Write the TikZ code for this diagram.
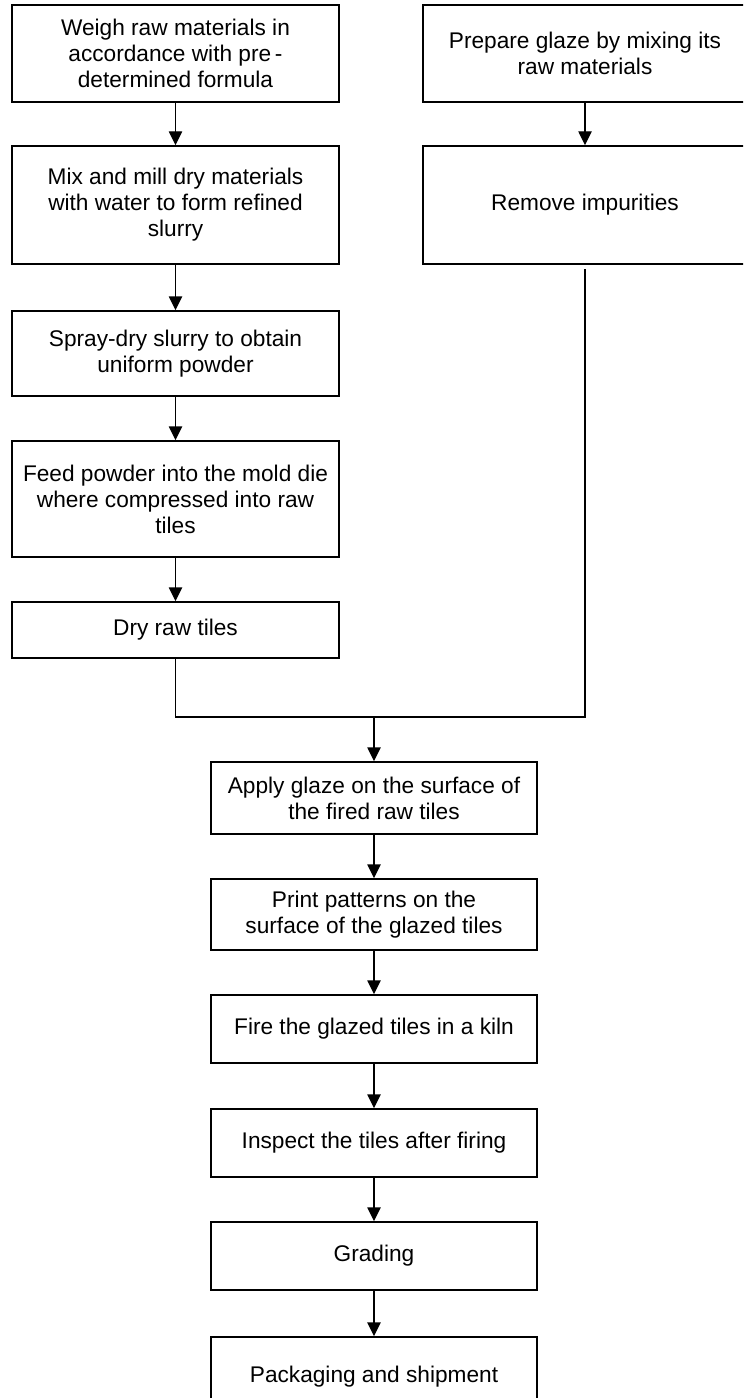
\documentclass[tikz,border=0pt]{standalone}
\usepackage{fontspec}
\setmainfont{Liberation Sans}
\usetikzlibrary{arrows.meta}

\begin{document}
\begin{tikzpicture}[x=0.75pt,y=0.75pt,yscale=-1,xscale=1,
  stage/.style={draw,line width=1.1pt,inner sep=2pt,align=center,
    font=\fontsize{17}{19.5}\selectfont},
  flow/.style={line width=1.1pt,-{Triangle[length=10.5pt,width=10pt]}}]
%set diagram left start at 0, and has height of 1398
\path [use as bounding box,clip] (0,0) rectangle (743,1398);

%Shape: Rectangle (left column)
\node [stage,minimum width=245.25pt,minimum height=72.75pt] (weigh) at (175.5,53.5) {Weigh raw materials in\\accordance with pre\,-\\determined formula};
\node [stage,minimum width=245.25pt,minimum height=88.5pt] (mill) at (175.5,205) {Mix and mill dry materials\\with water to form refined\\slurry};
\node [stage,minimum width=245.25pt,minimum height=63.75pt] (spray) at (175.5,353.5) {Spray-dry slurry to obtain\\uniform powder};
\node [stage,minimum width=245.25pt,minimum height=87pt] (press) at (175.5,499) {Feed powder into the mold die\\where compressed into raw\\tiles};
\node [stage,minimum width=245.25pt,minimum height=42pt] (dry) at (175.5,630) {Dry raw tiles};
%Shape: Rectangle (right column)
\node [stage,minimum width=243pt,minimum height=72.75pt] (glaze) at (585,53.5) {Prepare glaze by mixing its\\raw materials};
\node [stage,minimum width=243pt,minimum height=88.5pt] (clean) at (585,205) {Remove impurities};
%Shape: Rectangle (main column)
\node [stage,minimum width=244.5pt,minimum height=54pt] (apply) at (374,798) {Apply glaze on the surface of\\the fired raw tiles};
\node [stage,minimum width=244.5pt,minimum height=53.25pt] (print) at (374,914.5) {Print patterns on the\\surface of the glazed tiles};
\node [stage,minimum width=244.5pt,minimum height=51pt] (fire) at (374,1029) {Fire the glazed tiles in a kiln};
\node [stage,minimum width=244.5pt,minimum height=51pt] (inspect) at (374,1143) {Inspect the tiles after firing};
\node [stage,minimum width=244.5pt,minimum height=51pt] (grade) at (374,1256) {Grading};
\node [stage,minimum width=244.5pt,minimum height=60pt] (pack) at (374,1377) {Packaging and shipment};

\coordinate (join) at (374,717);

%Straight Lines
\draw [flow] (weigh) -- (mill);
\draw [flow] (mill) -- (spray);
\draw [flow] (spray) -- (press);
\draw [flow] (press) -- (dry);
\draw [flow] (glaze) -- (clean);
%Straight Lines (merge)
\draw [line width=1.1pt,shorten >=3pt] (dry.south) |- (join) -| (clean.south);
\draw [flow] (join) -- (apply);
%Straight Lines
\draw [flow] (apply) -- (print);
\draw [flow] (print) -- (fire);
\draw [flow] (fire) -- (inspect);
\draw [flow] (inspect) -- (grade);
\draw [flow] (grade) -- (pack);

\end{tikzpicture}
\end{document}
